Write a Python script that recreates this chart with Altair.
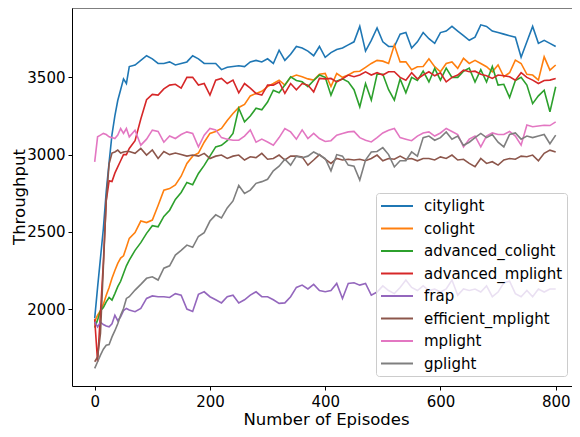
import altair as alt
import pandas as pd

episodes = list(range(0, 60, 5)) + list(range(60, 801, 10))

series_names = ["citylight", "colight", "advanced_colight", "advanced_mplight",
                "frap", "efficient_mplight", "mplight", "gplight"]
colors = ["#1f77b4", "#ff7f0e", "#2ca02c", "#d62728",
          "#9467bd", "#8c564b", "#e377c2", "#7f7f7f"]

citylight = [1940, 2140, 2330, 2520, 2760, 2950, 3130, 3250, 3350, 3420, 3490, 3460,
             3570, 3580, 3610, 3640, 3620, 3590, 3590, 3600, 3580, 3590,
             3600, 3640, 3620, 3590, 3590, 3590, 3550, 3565, 3570, 3575,
             3570, 3600, 3610, 3600, 3620, 3590, 3676, 3610, 3650, 3700,
             3690, 3670, 3640, 3700, 3630, 3660, 3680, 3690, 3710, 3730,
             3830, 3670, 3740, 3820, 3730, 3700, 3700, 3780, 3790, 3690,
             3730, 3790, 3750, 3720, 3790, 3800, 3830, 3800, 3770, 3740,
             3760, 3840, 3830, 3800, 3790, 3780, 3770, 3760, 3630, 3730,
             3830, 3720, 3740, 3720, 3700]
colight = [1920, 1960, 1990, 2030, 2090, 2140, 2200, 2250, 2296, 2330, 2345, 2400,
           2458, 2495, 2570, 2560, 2576, 2670, 2770, 2780, 2803, 2860,
           2943, 2990, 3010, 3080, 3137, 3150, 3169, 3220, 3266, 3305,
           3325, 3380, 3396, 3410, 3440, 3460, 3482, 3450, 3500, 3515,
           3504, 3490, 3482, 3520, 3525, 3440, 3525, 3500, 3515, 3536,
           3540, 3565, 3590, 3610, 3605, 3590, 3709, 3600, 3601, 3550,
           3569, 3570, 3620, 3569, 3536, 3590, 3600, 3558, 3623, 3590,
           3610, 3590, 3569, 3536, 3580, 3504, 3530, 3612, 3590, 3520,
           3515, 3482, 3633, 3547, 3580]
advanced_colight = [1880, 1930, 1990, 2010, 2047, 2075, 2058, 2100, 2145, 2180, 2230, 2280,
                    2317, 2380, 2430, 2490, 2540, 2533, 2600, 2640, 2710, 2755,
                    2820, 2805, 2878, 2930, 2990, 3050, 3060, 3090, 3137, 3300,
                    3212, 3250, 3300, 3290, 3340, 3417, 3400, 3450, 3504, 3480,
                    3471, 3440, 3480, 3515, 3500, 3385, 3475, 3490, 3471, 3420,
                    3309, 3460, 3353, 3520, 3520, 3420, 3353, 3490, 3400, 3500,
                    3480, 3540, 3470, 3558, 3482, 3560, 3500, 3500, 3540, 3560,
                    3470, 3550, 3470, 3570, 3450, 3455, 3370, 3480, 3500, 3450,
                    3330, 3380, 3417, 3277, 3439]
advanced_mplight = [1935, 1659, 1976, 2300, 2700, 2830, 2825, 2880, 2920, 2960, 3000, 3000,
                    3040, 3090, 3230, 3355, 3390, 3385, 3425, 3450, 3455, 3430,
                    3500, 3500, 3450, 3460, 3385, 3482, 3493, 3460, 3482, 3400,
                    3460, 3430, 3396, 3385, 3450, 3450, 3470, 3396, 3460, 3420,
                    3460, 3450, 3406, 3493, 3490, 3493, 3471, 3490, 3515, 3504,
                    3515, 3536, 3515, 3530, 3515, 3536, 3536, 3500, 3482, 3530,
                    3490, 3515, 3536, 3510, 3530, 3471, 3500, 3515, 3547, 3536,
                    3540, 3520, 3510, 3493, 3515, 3510, 3504, 3482, 3530, 3500,
                    3482, 3460, 3480, 3482, 3493]
frap = [1918, 1885, 1915, 1900, 1890, 1885, 1905, 1960, 1925, 1950, 1990, 2004,
        1994, 1983, 2004, 2069, 2085, 2080, 2080, 2075, 2100, 2090,
        2000, 1985, 2095, 2112, 2080, 2060, 2040, 2080, 2090, 2040,
        2060, 2090, 2112, 2080, 2080, 2060, 2037, 2040, 2080, 2140,
        2155, 2130, 2160, 2120, 2112, 2120, 2166, 2069, 2166, 2170,
        2155, 2166, 2090, 2110, 2150, 2120, 2100, 2140, 2188, 2140,
        2120, 2150, 2120, 2130, 2110, 2130, 2188, 2090, 2130, 2120,
        2130, 2110, 2150, 2080, 2110, 2170, 2180, 2100, 2080, 2120,
        2080, 2130, 2110, 2130, 2130]
efficient_mplight = [1659, 1690, 1843, 2272, 2705, 2940, 3010, 3017, 3029, 3010, 3017, 3020,
                     3020, 3008, 3040, 2997, 3030, 2975, 3020, 3000, 3010, 3000,
                     2990, 2997, 2990, 3008, 2975, 2990, 2997, 2975, 2990, 2997,
                     2965, 2986, 2980, 3008, 2970, 2975, 2997, 2965, 2990, 2990,
                     2985, 2932, 2965, 3000, 2970, 2943, 2975, 2965, 2970, 2965,
                     2970, 2960, 2975, 2997, 2960, 2975, 2970, 2990, 2970, 2975,
                     2960, 2975, 2975, 2965, 2985, 2975, 2997, 2965, 2970, 2943,
                     2921, 2975, 2943, 2954, 2932, 2965, 2975, 2970, 2990, 2986,
                     2997, 2960, 3008, 3029, 3017]
mplight = [2953, 3115, 3126, 3137, 3130, 3115, 3110, 3104, 3126, 3169, 3137, 3169,
           3115, 3158, 3061, 3100, 3158, 3150, 3080, 3120, 3104, 3130,
           3147, 3137, 3050, 3126, 3169, 3160, 3110, 3100, 3093, 3093,
           3120, 3160, 3080, 3100, 3082, 3061, 3110, 3169, 3147, 3100,
           3160, 3104, 3137, 3104, 3085, 3090, 3126, 3137, 3147, 3150,
           3110, 3093, 3082, 3110, 3140, 3158, 3169, 3110, 3100, 3090,
           3120, 3140, 3147, 3120, 3140, 3169, 3150, 3130, 3050, 3100,
           3120, 3050, 3120, 3140, 3130, 3130, 3150, 3120, 3061, 3191,
           3180, 3185, 3190, 3188, 3212]
gplight = [1616, 1659, 1702, 1740, 1766, 1770, 1820, 1860, 1905, 1960, 2004, 2069,
           2080, 2123, 2160, 2199, 2209, 2188, 2265, 2280, 2350, 2380,
           2414, 2400, 2470, 2495, 2570, 2610, 2590, 2655, 2700, 2800,
           2749, 2770, 2814, 2825, 2840, 2895, 2925, 2970, 2932, 2990,
           2980, 2990, 3017, 2997, 2975, 2895, 3000, 2990, 2932, 2925,
           2835, 2965, 3017, 3020, 3045, 3000, 2920, 2960, 2960, 3017,
           2990, 3110, 3120, 3093, 3110, 3147, 3100, 3120, 3060, 3080,
           3110, 3137, 3110, 3130, 3080, 3050, 3130, 3140, 3100, 3120,
           3110, 3120, 3130, 3070, 3126]

x_ticks = [0, 200, 400, 600, 800]
y_ticks = [2000, 2500, 3000, 3500]

all_series = [citylight, colight, advanced_colight, advanced_mplight,
              frap, efficient_mplight, mplight, gplight]
rows = []
for name, vals in zip(series_names, all_series):
    assert len(vals) == len(episodes), (name, len(vals))
    for e, v in zip(episodes, vals):
        rows.append({"episode": e, "throughput": v, "series": name})
df = pd.DataFrame(rows)

W, H = 500, 378
FONT = "DejaVu Sans"

lines = alt.Chart(df).mark_line(strokeWidth=1.6, clip=True).encode(
    x=alt.X("episode:Q",
            scale=alt.Scale(domain=[-39.4, 828.3], nice=False, zero=False),
            axis=alt.Axis(values=x_ticks, title="Number of Episodes", format="d",
                          labelBaseline="alphabetic", labelPadding=16,
                          titleBaseline="alphabetic", titleX=254, titleY=38,
                          titleAlign="center")),
    y=alt.Y("throughput:Q",
            scale=alt.Scale(domain=[1502, 3949], nice=False, zero=False),
            axis=alt.Axis(values=y_ticks, title="Throughput", format="d",
                          labelPadding=3,
                          titleBaseline="alphabetic", titleAngle=270,
                          titleX=-47.5, titleY=188.5, titleAlign="center")),
    color=alt.Color("series:N", sort=series_names,
                    scale=alt.Scale(domain=series_names, range=colors),
                    legend=alt.Legend(title=None, orient="none", legendX=304, legendY=185,
                                      symbolType="M-1,0H3", symbolSize=256,
                                      symbolStrokeWidth=2, labelFontSize=15,
                                      labelFont=FONT, labelColor="black",
                                      labelOffset=26, rowPadding=5.5, padding=4,
                                      fillColor="rgba(255,255,255,0.8)",
                                      strokeColor="#cccccc", cornerRadius=3)),
)

top = alt.Chart(pd.DataFrame({"a": [0]})).mark_rule(color="black", strokeWidth=1).encode(
    x=alt.value(0), x2=alt.value(W), y=alt.value(0)
)

chart = alt.layer(lines, top).properties(
    width=W, height=H,
    autosize="none",
    padding={"left": 64, "top": 0, "right": 0, "bottom": 43},
).configure_view(stroke=None).configure_axis(
    grid=False, domainColor="black", domainWidth=1, tickColor="black",
    tickSize=4, tickWidth=1, labelFont=FONT, labelFontSize=15, labelColor="black",
    titleFont=FONT, titleFontSize=16.5, titleFontWeight="normal", titleColor="black",
)

chart.save("out.html", embed_options={"renderer": "svg", "actions": False})
